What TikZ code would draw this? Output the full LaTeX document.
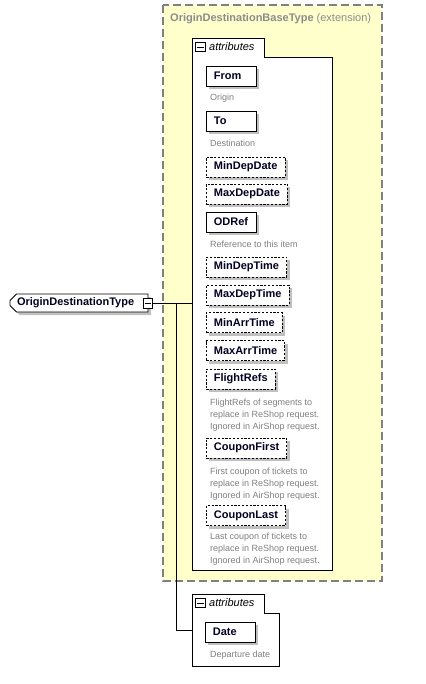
\documentclass[tikz,border=0pt]{standalone}
\usepackage{fontspec}
\setmainfont{Liberation Sans}
\usetikzlibrary{shadows,shapes.misc}
\definecolor{extfill}{RGB}{255,255,204}
\definecolor{extborder}{RGB}{128,128,128}
\definecolor{titlegray}{RGB}{140,140,140}
\definecolor{descgray}{RGB}{128,128,128}
\definecolor{shgray}{RGB}{192,192,192}
\definecolor{elemtext}{RGB}{0,0,32}
\newcommand\elabel[1]{\setbox0\hbox{#1}\ifdim\wd0<35pt \makebox[35pt][l]{#1}\else #1\fi}
\begin{document}
\begin{tikzpicture}[x=1pt,y=-1pt,
  elem/.style={draw=black, fill=white, text=elemtext,
    font=\bfseries\fontsize{11}{13}\selectfont,
    minimum height=20pt, inner xsep=7.5pt, inner ysep=0pt,
    anchor=west, line width=0.8pt,
    drop shadow={shadow xshift=3pt, shadow yshift=-3pt, fill=shgray, opacity=1}},
  optelem/.style={elem, dash pattern=on 2.2pt off 1.6pt},
  desc/.style={font=\fontsize{9}{12}\selectfont, text=descgray, align=left,
    anchor=west, inner sep=0pt},
  minusbox/.style={draw=black, fill=white, line width=0.8pt, minimum size=9.5pt, inner sep=0pt,
    path picture={\draw[line width=0.8pt] ([xshift=1.5pt]path picture bounding box.west) -- ([xshift=-1.5pt]path picture bounding box.east);}},
  attrbox/.style={draw=black, fill=white, line width=0.8pt},
  attrlabel/.style={font=\itshape\fontsize{11}{13}\selectfont, anchor=west, inner sep=0pt},
  conn/.style={draw=black, line width=0.9pt},
  rootstyle/.style={chamfered rectangle, chamfered rectangle corners={north west,south west},
    chamfered rectangle xsep=3pt, draw=black, fill=white, line width=0.8pt, text=elemtext,
    font=\bfseries\fontsize{11}{13}\selectfont, minimum width=138pt, minimum height=18pt,
    inner sep=0pt, drop shadow={shadow xshift=3pt, shadow yshift=-3pt, fill=shgray, opacity=1}}
]
\useasboundingbox (0,0) rectangle (425,684);

% extension box
\draw[fill=extfill, draw=extborder, line width=1.3pt, dash pattern=on 8pt off 4pt]
  (163,5) rectangle (382,581);
\node[anchor=west, inner sep=0pt, text=titlegray, font=\fontsize{11}{13}\selectfont]
  (title) at (170,18.5) {\textbf{OriginDestinationBaseType} (extension)};

% connection coordinates
\coordinate (branch) at (176.5,303.5);
\coordinate (a1in) at (192,303.5);
\coordinate (a2in) at (192,630.5);
\coordinate (bend) at (176.5,630.5);

% root
\node[rootstyle, text width=124pt, align=left] (root) at (79,303) {OriginDestinationType};
\node[minusbox] (rootminus) at (148,303.5) {};

\draw[conn] (rootminus.east) -- (branch) -- (a1in);
\draw[conn] (branch) -- (bend) -- (a2in);

% first attributes box
\draw[attrbox] (192,38) -- (264,38) -- (264,57) -- (332,57) -- (332,570) -- (192,570) -- cycle;
\node[minusbox] (m1) at (200.5,47) {};
\node[attrlabel] (attr1) at (209,47) {attributes};

\node[elem] (from) at (206,76) {\elabel{From}};
\node[desc] (fromd) at (210,98) {Origin};
\node[elem] (to) at (206,121) {\elabel{To}};
\node[desc] (tod) at (210,143) {Destination};
\node[optelem] (mindd) at (206,167) {\elabel{MinDepDate}};
\node[optelem] (maxdd) at (206,194) {\elabel{MaxDepDate}};
\node[elem] (odref) at (206,222) {\elabel{ODRef}};
\node[desc] (odrefd) at (210,244) {Reference to this item};
\node[optelem] (mindt) at (206,267) {\elabel{MinDepTime}};
\node[optelem] (maxdt) at (206,295) {\elabel{MaxDepTime}};
\node[optelem] (minat) at (206,322.5) {\elabel{MinArrTime}};
\node[optelem] (maxat) at (206,350.5) {\elabel{MaxArrTime}};
\node[optelem] (frefs) at (206,379) {\elabel{FlightRefs}};
\node[desc] (frefsd) at (210,415) {FlightRefs of segments to\\replace in ReShop request.\\Ignored in AirShop request.};
\node[optelem] (cfirst) at (206,448) {\elabel{CouponFirst}};
\node[desc] (cfirstd) at (210,484) {First coupon of tickets to\\replace in ReShop request.\\Ignored in AirShop request.};
\node[optelem] (clast) at (206,515.5) {\elabel{CouponLast}};
\node[desc] (clastd) at (210,549) {Last coupon of tickets to\\replace in ReShop request.\\Ignored in AirShop request.};

% second attributes box
\draw[attrbox] (192,594) -- (264,594) -- (264,613) -- (279,613) -- (279,666) -- (192,666) -- cycle;
\node[minusbox] (m2) at (200.5,603) {};
\node[attrlabel] (attr2) at (209,603) {attributes};
\node[elem] (date) at (205,632) {\elabel{Date}};
\node[desc] (dated) at (210,655) {Departure date};
\end{tikzpicture}
\end{document}
